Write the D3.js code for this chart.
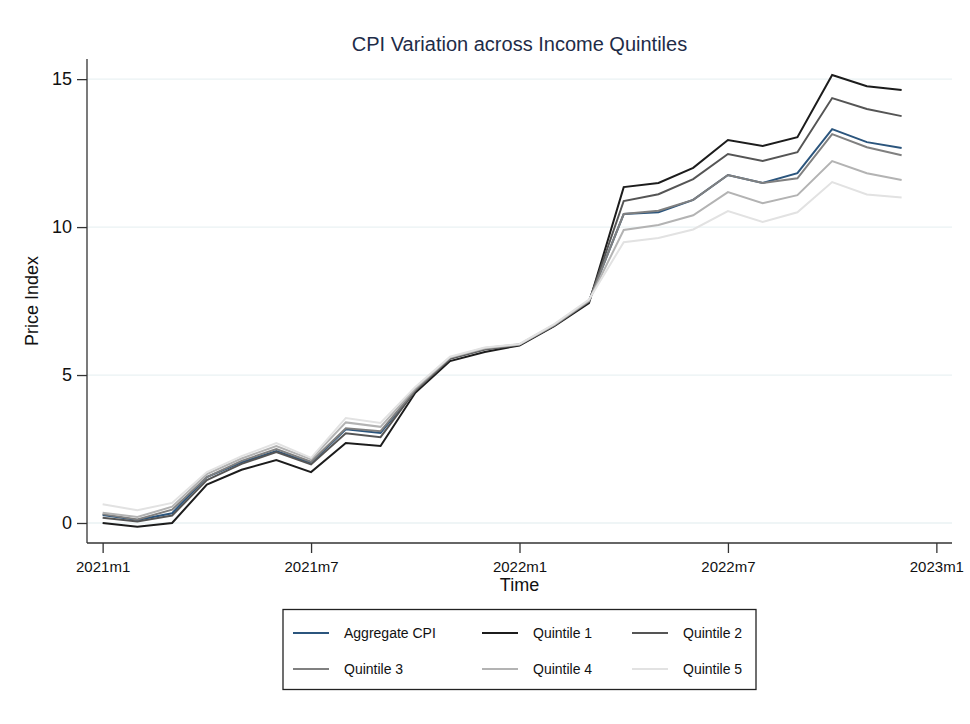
<!DOCTYPE html>
<html>
<head>
<meta charset="utf-8">
<script src="https://cdn.jsdelivr.net/npm/d3@7"></script>
<style>
  html, body { margin: 0; padding: 0; background: #fff; }
  svg { display: block; font-family: "Liberation Sans", Arial, sans-serif; }
</style>
</head>
<body>
<svg id="chart" width="970" height="724"></svg>
<script>
// ---- Data ----
const months = d3.range(0, 24); // 0 = 2021m1 ... 23 = 2022m12
const xTickValues = [0, 6, 12, 18, 24];
const xTickLabels = ["2021m1", "2021m7", "2022m1", "2022m7", "2023m1"];
const yTickValues = [0, 5, 10, 15];

const seriesNames = ["Aggregate CPI", "Quintile 1", "Quintile 2", "Quintile 3", "Quintile 4", "Quintile 5"];
const aggregate = [0.27, 0.10, 0.33, 1.55, 2.05, 2.43, 2.03, 3.17, 3.04, 4.50, 5.57, 5.88, 6.03, 6.68, 7.50, 10.44, 10.50, 10.92, 11.76, 11.49, 11.82, 13.31, 12.87, 12.67];
const quintile1 = [0.00, -0.13, 0.00, 1.30, 1.80, 2.13, 1.72, 2.70, 2.60, 4.40, 5.47, 5.78, 6.00, 6.65, 7.43, 11.35, 11.49, 12.00, 12.94, 12.74, 13.04, 15.14, 14.76, 14.63];
const quintile2 = [0.18, 0.05, 0.25, 1.45, 2.00, 2.40, 1.98, 3.03, 2.90, 4.47, 5.55, 5.86, 6.02, 6.67, 7.48, 10.88, 11.11, 11.62, 12.47, 12.23, 12.53, 14.36, 13.99, 13.75];
const quintile3 = [0.30, 0.12, 0.45, 1.55, 2.10, 2.50, 2.07, 3.20, 3.10, 4.50, 5.58, 5.89, 6.03, 6.69, 7.50, 10.44, 10.55, 10.92, 11.76, 11.49, 11.65, 13.14, 12.70, 12.43];
const quintile4 = [0.35, 0.20, 0.55, 1.65, 2.18, 2.60, 2.15, 3.40, 3.25, 4.55, 5.60, 5.91, 6.04, 6.70, 7.52, 9.90, 10.07, 10.40, 11.18, 10.81, 11.08, 12.23, 11.82, 11.59];
const quintile5 = [0.63, 0.43, 0.68, 1.72, 2.26, 2.70, 2.20, 3.55, 3.38, 4.60, 5.62, 5.93, 6.05, 6.72, 7.55, 9.49, 9.63, 9.92, 10.54, 10.17, 10.50, 11.52, 11.10, 11.00];
const seriesValues = [aggregate, quintile1, quintile2, quintile3, quintile4, quintile5];
const seriesColors = ["#2b557d", "#1c1c1c", "#555555", "#808080", "#b3b3b3", "#e2e2e2"];

// ---- Layout ----
const svg = d3.select("#chart");
const plot = { left: 87, right: 952, top: 59, bottom: 543 };

const x = d3.scaleLinear().domain([-0.45, 24.45]).range([plot.left, plot.right]);
const y = d3.scaleLinear().domain([-0.676, 15.68]).range([plot.bottom, plot.top]);

// gridlines
svg.append("g")
  .selectAll("line")
  .data(yTickValues)
  .join("line")
  .attr("x1", plot.left).attr("x2", plot.right)
  .attr("y1", d => y(d)).attr("y2", d => y(d))
  .attr("stroke", "#eaf2f3").attr("stroke-width", 1.3);

// lines
const line = d3.line().x((d, i) => x(months[i])).y(d => y(d));
svg.append("g")
  .selectAll("path")
  .data(seriesValues)
  .join("path")
  .attr("d", d => line(d))
  .attr("fill", "none")
  .attr("stroke", (d, i) => seriesColors[i])
  .attr("stroke-width", 2)
  .attr("stroke-linejoin", "miter");

// axes
const yAxis = d3.axisLeft(y).tickValues(yTickValues).tickSize(10).tickPadding(5).tickFormat(d3.format("d"));
const yg = svg.append("g").attr("transform", `translate(${plot.left},0)`).call(yAxis);
yg.select(".domain").attr("d", `M0,${plot.top}V${plot.bottom}`).attr("stroke", "#333").attr("stroke-width", 1.3);
yg.selectAll(".tick line").attr("stroke", "#333").attr("stroke-width", 1.3);
yg.selectAll(".tick text").attr("font-size", 18).attr("fill", "#111").attr("font-family", "Liberation Sans, Arial, sans-serif");

const xAxis = d3.axisBottom(x).tickValues(xTickValues).tickSize(10).tickPadding(8)
  .tickFormat((d, i) => xTickLabels[i]);
const xg = svg.append("g").attr("transform", `translate(0,${plot.bottom})`).call(xAxis);
xg.select(".domain").attr("d", `M${plot.left},0H${plot.right}`).attr("stroke", "#333").attr("stroke-width", 1.3);
xg.selectAll(".tick line").attr("stroke", "#333").attr("stroke-width", 1.3);
xg.selectAll(".tick text").attr("font-size", 15).attr("fill", "#111").attr("font-family", "Liberation Sans, Arial, sans-serif");

// title and axis titles
svg.append("text")
  .attr("x", (plot.left + plot.right) / 2).attr("y", 51)
  .attr("text-anchor", "middle").attr("font-size", 20).attr("fill", "#1e2c48")
  .text("CPI Variation across Income Quintiles");

svg.append("text")
  .attr("x", (plot.left + plot.right) / 2).attr("y", 591)
  .attr("text-anchor", "middle").attr("font-size", 18).attr("fill", "#111")
  .text("Time");

svg.append("text")
  .attr("transform", `translate(38,${(plot.top + plot.bottom) / 2}) rotate(-90)`)
  .attr("text-anchor", "middle").attr("font-size", 18).attr("fill", "#111")
  .text("Price Index");

// legend
const legend = svg.append("g");
legend.append("rect")
  .attr("x", 283).attr("y", 609.5).attr("width", 473).attr("height", 80)
  .attr("fill", "#fff").attr("stroke", "#222").attr("stroke-width", 1.3);

const colX = [293, 482, 632];
const rowY = [633, 669];
const items = legend.selectAll("g.item")
  .data(seriesNames)
  .join("g")
  .attr("class", "item")
  .attr("transform", (d, i) => `translate(${colX[i % 3]},${rowY[Math.floor(i / 3)]})`);
items.append("line")
  .attr("x1", 0).attr("x2", 36).attr("y1", 0).attr("y2", 0)
  .attr("stroke", (d, i) => seriesColors[i]).attr("stroke-width", 2);
items.append("text")
  .attr("x", 51).attr("y", 5)
  .attr("font-size", 14).attr("fill", "#111")
  .text(d => d);
</script>
</body>
</html>
